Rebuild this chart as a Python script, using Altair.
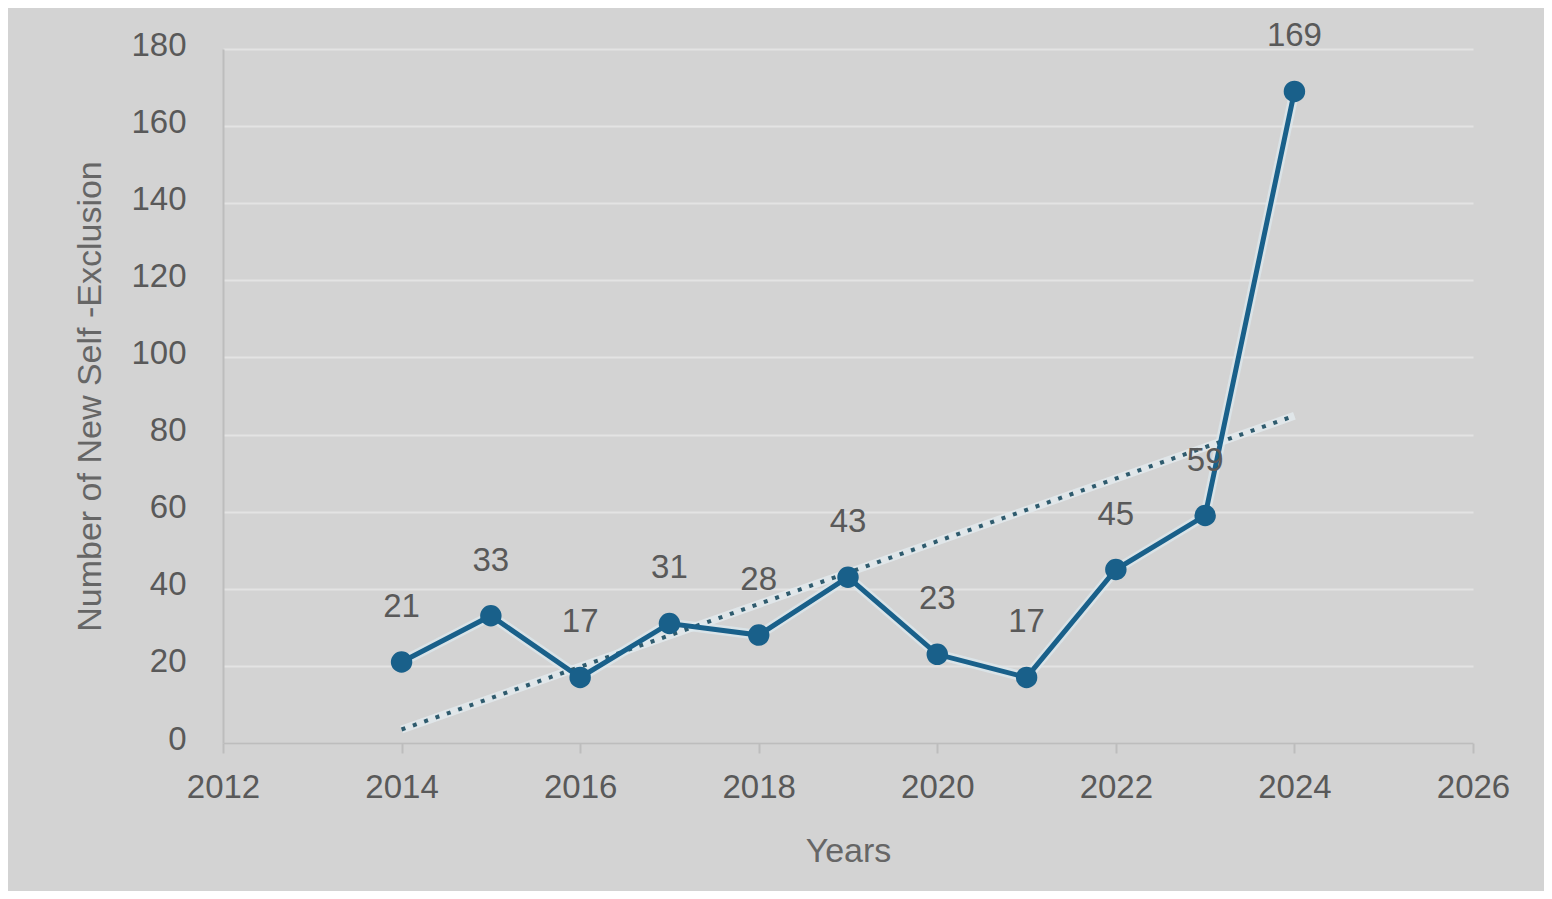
import altair as alt
import pandas as pd

years = [2014, 2015, 2016, 2017, 2018, 2019, 2020, 2021, 2022, 2023, 2024]
values = [21, 33, 17, 31, 28, 43, 23, 17, 45, 59, 169]
x_ticks = [2012, 2014, 2016, 2018, 2020, 2022, 2024, 2026]
y_ticks = [0, 20, 40, 60, 80, 100, 120, 140, 160, 180]

df = pd.DataFrame({"Year": years, "Value": values})

FONT = "Liberation Sans, Arial, sans-serif"
LINE = "#19608a"
TREND = "#2e5b6e"
TEXT = "#595959"

x = alt.X("Year:Q",
          scale=alt.Scale(domain=[2012, 2026], nice=False, zero=False),
          axis=alt.Axis(values=x_ticks, format="d", title="Years",
                        grid=False, domain=True, domainColor="#bdbdbd", domainWidth=2,
                        ticks=True, tickColor="#bdbdbd", tickSize=10, tickWidth=2,
                        labelFlush=False, labelOverlap=False,
                        labelPadding=18, labelFontSize=33, labelColor=TEXT, labelFont=FONT,
                        titleFontSize=34, titleColor="#666666", titleFont=FONT,
                        titleFontWeight="normal", titlePadding=30))
y = alt.Y("Value:Q",
          scale=alt.Scale(domain=[0, 180], nice=False),
          axis=alt.Axis(values=y_ticks, title="Number of New Self -Exclusion",
                        grid=True, gridColor="#e3e3e3", gridWidth=2,
                        domain=True, domainColor="#bdbdbd", domainWidth=2,
                        ticks=False, labelPadding=37, labelOffset=-4,
                        labelFlush=False, labelOverlap=False,
                        labelFontSize=33, labelColor=TEXT, labelFont=FONT,
                        titleFontSize=34, titleColor="#666666", titleFont=FONT,
                        titleFontWeight="normal", titlePadding=23))

base = alt.Chart(df)

trend_glow = base.transform_regression("Year", "Value", method="linear").mark_line(
    color="#e6eef2", strokeWidth=8, opacity=0.7
).encode(x=x, y=y)

trend = base.transform_regression("Year", "Value", method="linear").mark_line(
    color=TREND, strokeWidth=4, strokeDash=[4, 8]
).encode(x=x, y=y)

glow = base.mark_line(color="#dde9f0", strokeWidth=10, opacity=0.7).encode(x=x, y=y)
line = base.mark_line(color=LINE, strokeWidth=5).encode(x=x, y=y)
points = base.mark_circle(color=LINE, size=460, opacity=1).encode(x=x, y=y)
labels = base.mark_text(dy=-55, fontSize=33, font=FONT, color=TEXT, baseline="middle").encode(
    x=x, y=y, text=alt.Text("Value:Q", format="d"))

chart = alt.layer(trend_glow, glow, trend, line, points, labels).properties(
    width=1250, height=694,
    autosize="none",
    padding={"left": 215, "top": 41, "right": 71, "bottom": 148},
    background="#d3d3d3",
).configure_view(stroke=None)

chart.save("out.html", embed_options={"renderer": "svg", "actions": False})
